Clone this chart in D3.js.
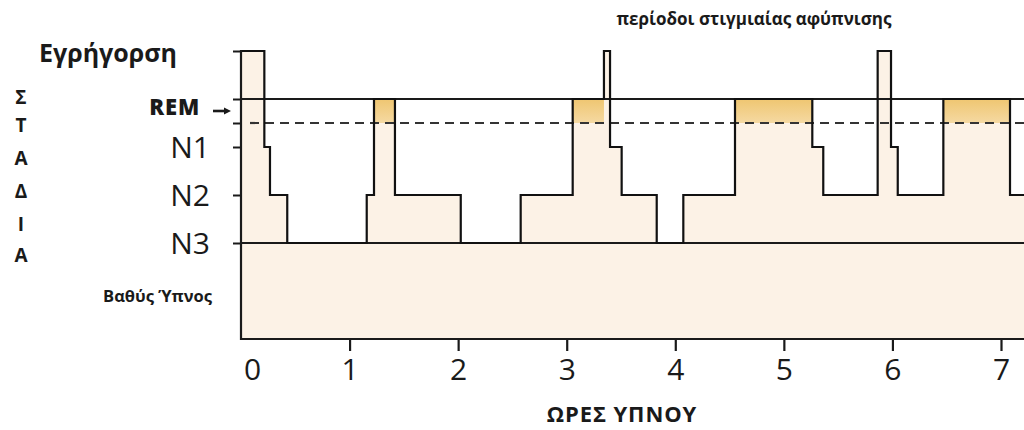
<!DOCTYPE html>
<html>
<head>
<meta charset="utf-8">
<script src="https://cdn.jsdelivr.net/npm/d3@7"></script>
<style>
  html, body { margin: 0; padding: 0; background: #ffffff; }
  svg { display: block; }
  text { font-family: "Open Sans", "Noto Sans", sans-serif; fill: #1a1a1a; }
</style>
</head>
<body>
<svg id="chart" width="1024" height="430"></svg>
<script>
// ---- data ----
// stage levels (0 = wake at top, deeper = larger)
const stageNames = ["Εγρήγορση", "REM", "N1", "N2", "N3"];
const stageLevel = { "W": 0, "REM": 1, "N1": 2, "N2": 3, "N3": 4 };
// hypnogram: time (hours) each stage begins
const stepHours  = [0, 0.215, 0.267, 0.426, 1.158, 1.225, 1.418, 2.024, 2.576, 3.055, 3.343, 3.399, 3.506, 3.829, 4.074, 4.550, 5.262, 5.363, 5.864, 5.987, 6.049, 6.469, 7.083];
const stepStages = ["W", "N1", "N2", "N3", "N2", "REM", "N2", "N3", "N2", "REM", "W", "N1", "N2", "N3", "N2", "REM", "N1", "N2", "W", "N1", "N2", "REM", "N2"];
const endHour = 7.4;
const xTicks = [0, 1, 2, 3, 4, 5, 6, 7];
const yTickLevels = [0, 1, 1.5, 2, 3, 4];
const columnLetters = ["Σ", "Τ", "Α", "Δ", "Ι", "Α"];
const titleText = "περίοδοι στιγμιαίας αφύπνισης";
const xTitle = "ΩΡΕΣ ΥΠΝΟΥ";
const deepLabel = "Βαθύς Ύπνος";

// ---- scales ----
const svg = d3.select("#chart");
const x = d3.scaleLinear().domain([0, 7]).range([241, 1001]);
const y = d3.scaleLinear().domain([0, 6]).range([51, 339]);

// build step points
const steps = stepHours.map((h, i) => ({ h, lvl: stageLevel[stepStages[i]], st: stepStages[i],
  end: i < stepHours.length - 1 ? stepHours[i + 1] : endHour }));
const pts = [];
steps.forEach(s => { pts.push([s.h, s.lvl]); pts.push([s.end, s.lvl]); });

const defs = svg.append("defs");
const grad = defs.append("linearGradient").attr("id", "gold").attr("x1", 0).attr("y1", 0).attr("x2", 0).attr("y2", 1);
grad.append("stop").attr("offset", "0%").attr("stop-color", "#efc671");
grad.append("stop").attr("offset", "100%").attr("stop-color", "#f5d9a2");

// pale fill under curve
const area = d3.area().x(d => x(d[0])).y0(y(6)).y1(d => y(d[1]));
svg.append("path").datum(pts).attr("d", area).attr("fill", "#fcf2e6");

// REM gold bands
svg.selectAll("rect.rem").data(steps.filter(s => s.st === "REM")).enter().append("rect")
  .attr("class", "rem")
  .attr("x", d => x(d.h)).attr("width", d => x(d.end) - x(d.h))
  .attr("y", y(1)).attr("height", y(1.5) - y(1))
  .attr("fill", "url(#gold)");

// reference lines
[1, 4].forEach(l => {
  svg.append("line").attr("x1", x(0)).attr("x2", x(endHour)).attr("y1", y(l)).attr("y2", y(l))
    .attr("stroke", "#1a1a1a").attr("stroke-width", 2);
});
svg.append("line").attr("x1", x(0) + 9).attr("x2", x(endHour)).attr("y1", y(1.5)).attr("y2", y(1.5))
  .attr("stroke", "#333").attr("stroke-width", 2.2).attr("stroke-dasharray", "9,6");

// hypnogram line
const line = d3.line().x(d => x(d[0])).y(d => y(d[1]));
svg.append("path").datum(pts).attr("d", line).attr("fill", "none")
  .attr("stroke", "#111").attr("stroke-width", 2.2).attr("stroke-linejoin", "miter");

// y axis
const yAxis = d3.axisLeft(y).tickValues(yTickLevels).tickSize(8).tickFormat("");
const gy = svg.append("g").attr("transform", `translate(${x(0)},0)`).call(yAxis);
gy.select(".domain").remove();
gy.selectAll(".tick line").attr("stroke", "#1a1a1a").attr("stroke-width", 2);
svg.append("line").attr("x1", x(0)).attr("x2", x(0)).attr("y1", y(0) - 1).attr("y2", y(6) + 1)
  .attr("stroke", "#1a1a1a").attr("stroke-width", 2.2);

// x axis
const xAxis = d3.axisBottom(x).tickValues(xTicks).tickSize(12).tickPadding(8).tickFormat(d3.format("d"));
const gx = svg.append("g").attr("transform", `translate(0,${y(6)})`).call(xAxis);
gx.select(".domain").remove();
gx.selectAll(".tick line").attr("stroke", "#1a1a1a").attr("stroke-width", 2.2)
  .attr("display", d => d === 0 ? "none" : null);
gx.selectAll(".tick text").attr("font-size", 30).attr("fill", "#1a1a1a")
  .attr("font-family", "'Open Sans', sans-serif")
  .attr("dx", d => d === 0 ? 11 : 0);
svg.append("line").attr("x1", x(0) - 1).attr("x2", 1024).attr("y1", y(6)).attr("y2", y(6))
  .attr("stroke", "#1a1a1a").attr("stroke-width", 2.2);

// stage labels
svg.append("text").attr("x", 39).attr("y", 62).attr("font-size", 25).attr("font-weight", 700).text(stageNames[0]);
svg.append("text").attr("x", 200).attr("y", 115).attr("text-anchor", "end")
  .attr("font-size", 22).attr("font-weight", 800).attr("letter-spacing", 0.8).text(stageNames[1]);
// small pointer arrow from REM label toward the REM band
const arrowY = (y(1) + y(1.5)) / 2;
svg.append("line").attr("x1", 213).attr("x2", 226).attr("y1", arrowY).attr("y2", arrowY)
  .attr("stroke", "#1a1a1a").attr("stroke-width", 2.6);
svg.append("path").attr("d", d3.line()([[224, arrowY - 3.5], [231, arrowY], [224, arrowY + 3.5]]) + "Z")
  .attr("fill", "#1a1a1a");
[2, 3, 4].forEach(i => {
  svg.append("text").attr("x", 210).attr("y", y(i) + 11).attr("text-anchor", "end")
    .attr("font-size", 30).text(stageNames[i]);
});
svg.append("text").attr("x", 212).attr("y", 302).attr("text-anchor", "end")
  .attr("font-size", 16.5).attr("font-weight", 700).text(deepLabel);

// vertical axis title letters
const letterY = [97, 125, 158, 191, 224, 255];
columnLetters.forEach((c, i) => {
  svg.append("text").attr("x", 21).attr("y", letterY[i] + 7).attr("text-anchor", "middle")
    .attr("font-size", 19).attr("font-weight", 700).text(c);
});

// titles
svg.append("text").attr("x", 754).attr("y", 25).attr("text-anchor", "middle")
  .attr("font-size", 17).attr("font-weight", 700).text(titleText);
svg.append("text").attr("x", 622).attr("y", 422).attr("text-anchor", "middle")
  .attr("font-size", 22).attr("font-weight", 700).attr("letter-spacing", 0.9).text(xTitle);
</script>
</body>
</html>
